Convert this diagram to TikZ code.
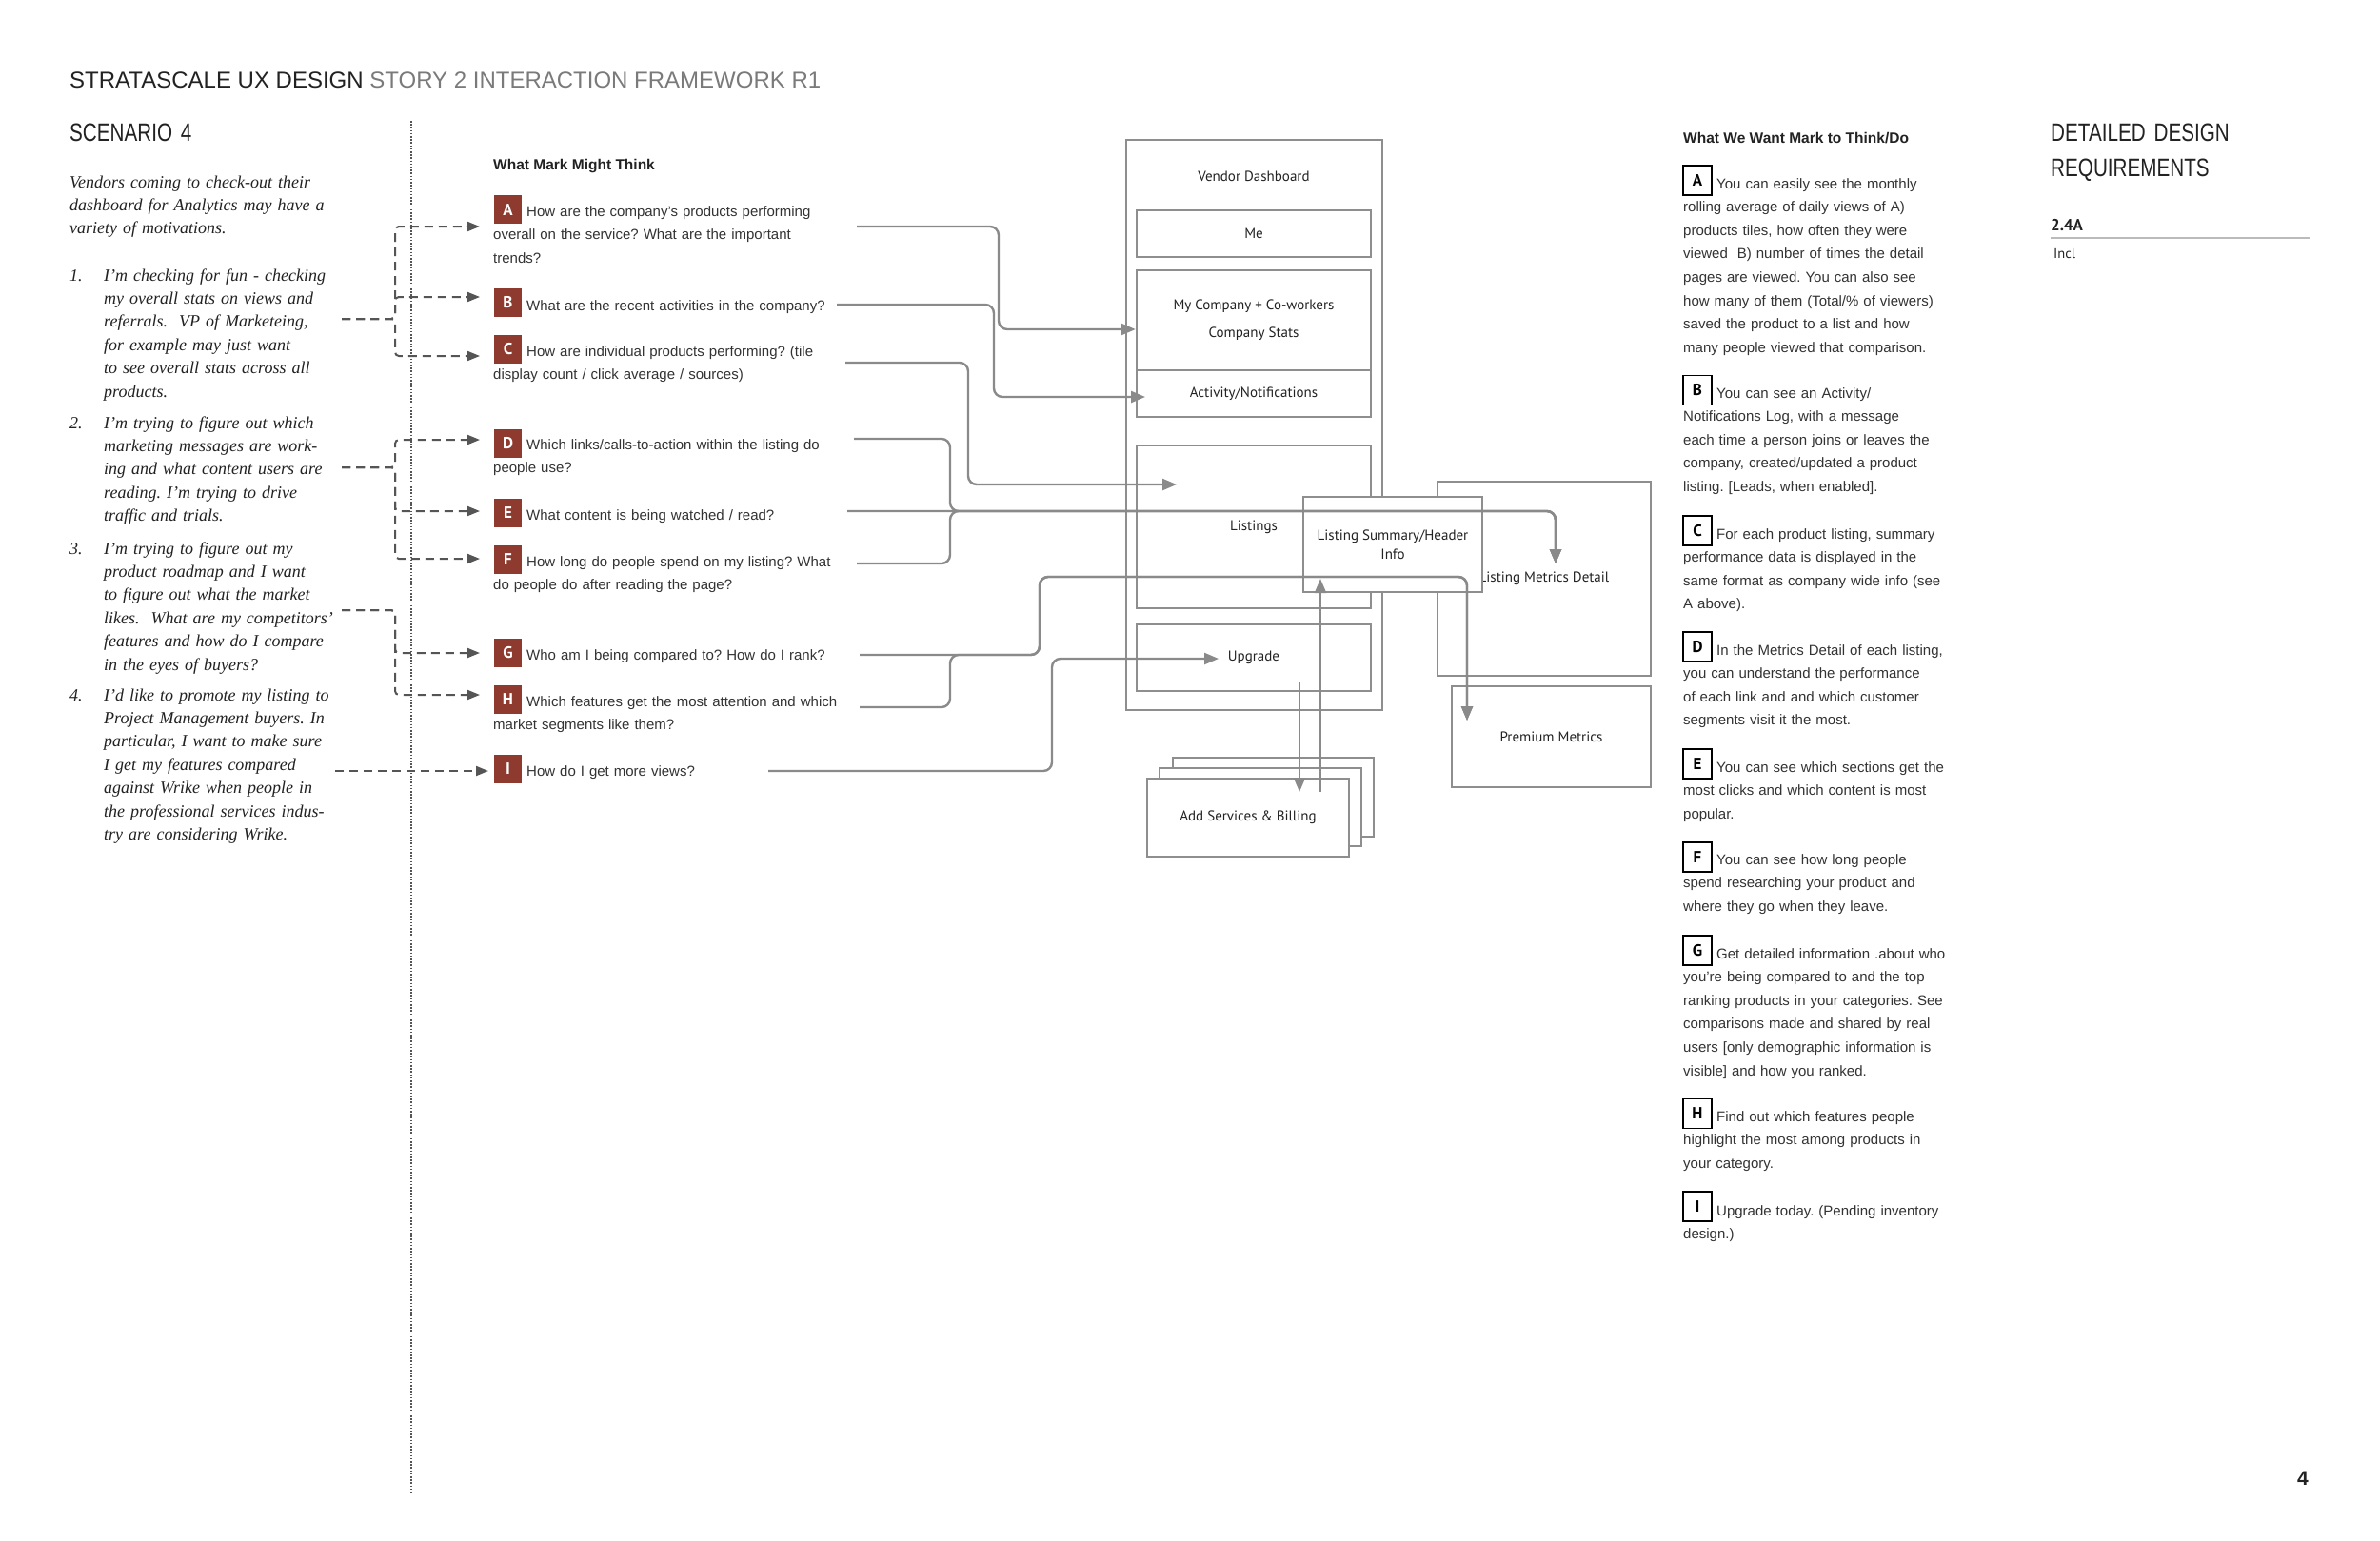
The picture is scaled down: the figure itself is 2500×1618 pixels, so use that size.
\documentclass[tikz,border=0pt]{standalone}
\usepackage{fontspec}
\setmainfont{Liberation Sans}
\newfontfamily\ptsans{PT Sans}
\newfontfamily\serifit{Liberation Serif}
\newfontfamily\condsans[FakeStretch=0.78]{Liberation Sans}
\usetikzlibrary{arrows.meta}
\definecolor{boxgray}{HTML}{8E8E8E}
\definecolor{linegray}{HTML}{8A8A8A}
\definecolor{dashgray}{HTML}{555555}
\definecolor{badgered}{HTML}{8E3A2E}
\definecolor{txtdark}{HTML}{222222}
\definecolor{txtbody}{HTML}{333333}
\definecolor{titlegray}{HTML}{7A7A7A}
\definecolor{rulegray}{HTML}{BBBBBB}
\frenchspacing
\begin{document}
\begin{tikzpicture}[x=1pt,y=-1pt,
  panel/.style={draw=boxgray, line width=2.4pt, fill=white, inner sep=2pt,
    font=\ptsans\fontsize{15}{18}\selectfont, text=txtdark, align=center},
  conn/.style={draw=linegray, line width=2.4pt, rounded corners=9pt,
    -{Triangle[length=15pt,width=12pt]}},
  dconn/.style={draw=dashgray, line width=2pt, dash pattern=on 9pt off 6pt,
    rounded corners=4pt, -{Triangle[length=13pt,width=10pt]}},
  badge/.style={fill=badgered, text=white, minimum width=29pt, minimum height=30pt,
    inner sep=0pt, font=\ptsans\bfseries\fontsize{17}{17}\selectfont},
  lbox/.style={draw=black, line width=1.8pt, fill=white, minimum width=30pt,
    minimum height=31pt, inner sep=0pt, font=\ptsans\bfseries\fontsize{17}{17}\selectfont},
  qtext/.style={anchor=base west, inner sep=0pt, text width=400pt, align=left,
    text=txtbody, font=\fontsize{15}{24.8}\selectfont},
  rtext/.style={anchor=base west, inner sep=0pt, text width=340pt, align=left,
    text=txtbody, font=\fontsize{15}{24.6}\selectfont},
  ltext/.style={anchor=base west, inner sep=0pt, text width=320pt, align=left,
    text=txtdark, font=\serifit\itshape\fontsize{18}{24.4}\selectfont},
  head/.style={anchor=base west, inner sep=0pt, text=txtdark,
    font=\bfseries\fontsize{15.5}{18}\selectfont},
  cond/.style={anchor=base west, inner sep=0pt, text=txtdark, align=left,
    text width=320pt, font=\condsans\fontsize{26.5}{37}\selectfont},
  dotline/.style={draw=dashgray, line width=1.6pt, dash pattern=on 1.6pt off 1.6pt}
]
\useasboundingbox (0,0) rectangle (2500,1618);
\fill[white] (0,0) rectangle (2500,1618);

% ---------- titles ----------
\node[anchor=base west, inner sep=0pt, font=\fontsize{24}{28}\selectfont] (title) at (73,92)
  {{\color{txtdark}STRATASCALE UX DESIGN} {\color{titlegray}STORY 2 INTERACTION FRAMEWORK R1}};
\node[cond] (scen) at (73,148) {SCENARIO 4};
\node[cond] (ddr) at (2154,148) {DETAILED DESIGN\\REQUIREMENTS};
\node[anchor=base west, inner sep=0pt, text=txtdark, font=\ptsans\bfseries\fontsize{17}{20}\selectfont] (req) at (2154,242) {2.4A};
\coordinate (ruleL) at (2154,250);
\coordinate (ruleR) at (2426,250);
\draw[rulegray, line width=2.5pt] (ruleL) -- (ruleR);
\node[anchor=base west, inner sep=0pt, text=txtdark, font=\ptsans\fontsize{14.5}{17}\selectfont] (incl) at (2157,271) {Incl};
\node[anchor=base west, inner sep=0pt, text=txtdark, font=\bfseries\fontsize{21}{24}\selectfont] (pnum) at (2413,1560) {4};

% ---------- dotted divider ----------
\coordinate (dtop) at (432,127);
\coordinate (dbot) at (432,1570);
\draw[dotline] (dtop) -- (dbot);

% ---------- left scenario text ----------
\node[ltext] (intro) at (73,197) {Vendors coming to check-out their\\dashboard for Analytics may have a\\variety of motivations.};
\node[ltext, text width=30pt] (n1) at (73,295) {1.};
\node[ltext] (s1t) at (109,295) {I’m checking for fun - checking\\my overall stats on views and\\referrals.\ \ VP of Marketeing,\\for example may just want\\to see overall stats across all\\products.};
\node[ltext, text width=30pt] (n2) at (73,450) {2.};
\node[ltext] (s2t) at (109,450) {I’m trying to figure out which\\marketing messages are work-\\ing and what content users are\\reading. I’m trying to drive\\traffic and trials.};
\node[ltext, text width=30pt] (n3) at (73,582) {3.};
\node[ltext] (s3t) at (109,582) {I’m trying to figure out my\\product roadmap and I want\\to figure out what the market\\likes.\ \ What are my competitors’\\features and how do I compare\\in the eyes of buyers?};
\node[ltext, text width=30pt] (n4) at (73,736) {4.};
\node[ltext] (s4t) at (109,736) {I’d like to promote my listing to\\Project Management buyers. In\\particular, I want to make sure\\I get my features compared\\against Wrike when people in\\the professional services indus-\\try are considering Wrike.};

% ---------- questions ----------
\node[head] (qhead) at (518,178) {What Mark Might Think};
\node[badge] (bA) at (533.5,220) {A};
\node[qtext] (qA) at (518,227) {\hspace*{35pt}How are the company’s products performing\\overall on the service? What are the important\\trends?};
\node[badge] (bB) at (533.5,318) {B};
\node[qtext] (qB) at (518,326) {\hspace*{35pt}What are the recent activities in the company?};
\node[badge] (bC) at (533.5,367) {C};
\node[qtext] (qC) at (518,374) {\hspace*{35pt}How are individual products performing? (tile\\display count / click average / sources)};
\node[badge] (bD) at (533.5,466) {D};
\node[qtext] (qD) at (518,472) {\hspace*{35pt}Which links/calls-to-action within the listing do\\people use?};
\node[badge] (bE) at (533.5,539) {E};
\node[qtext] (qE) at (518,546) {\hspace*{35pt}What content is being watched / read?};
\node[badge] (bF) at (533.5,588) {F};
\node[qtext] (qF) at (518,595) {\hspace*{35pt}How long do people spend on my listing? What\\do people do after reading the page?};
\node[badge] (bG) at (533.5,686) {G};
\node[qtext] (qG) at (518,693) {\hspace*{35pt}Who am I being compared to? How do I rank?};
\node[badge] (bH) at (533.5,735) {H};
\node[qtext] (qH) at (518,742) {\hspace*{35pt}Which features get the most attention and which\\market segments like them?};
\node[badge] (bI) at (533.5,808) {I};
\node[qtext] (qI) at (518,815) {\hspace*{35pt}How do I get more views?};

% ---------- dashed connectors from scenarios ----------
\coordinate (src1) at (359,335); \coordinate (j1) at (415,335);
\coordinate (tA) at (504,238); \coordinate (tB) at (504,312); \coordinate (tC) at (504,374);
\draw[dconn] (src1) -- (j1) |- (tA);
\draw[dconn] (src1) -- (j1) |- (tB);
\draw[dconn] (src1) -- (j1) |- (tC);
\coordinate (src2) at (359,491); \coordinate (j2) at (415,491);
\coordinate (tD) at (504,462); \coordinate (tE) at (504,537); \coordinate (tF) at (504,587);
\draw[dconn] (src2) -- (j2) |- (tD);
\draw[dconn] (src2) -- (j2) |- (tE);
\draw[dconn] (src2) -- (j2) |- (tF);
\coordinate (src3) at (359,641); \coordinate (j3) at (415,641);
\coordinate (tG) at (504,686); \coordinate (tH) at (504,730);
\draw[dconn] (src3) -- (j3) |- (tG);
\draw[dconn] (src3) -- (j3) |- (tH);
\coordinate (src4) at (352,810); \coordinate (tI) at (513,810);
\draw[dconn] (src4) -- (tI);

% ---------- diagram boxes ----------
\node[panel, minimum width=269pt, minimum height=599pt] (vd) at (1317.5,446.5) {};
\node[anchor=center, inner sep=0pt, text=txtdark, font=\ptsans\fontsize{15}{18}\selectfont] (vdt) at (1317,185) {Vendor Dashboard};
\node[panel, minimum width=246pt, minimum height=49pt] (me) at (1317,245.5) {Me};
\node[panel, minimum width=246pt, minimum height=105pt, font=\ptsans\fontsize{15}{29}\selectfont] (myco) at (1317,336.5) {My Company + Co-workers\\Company Stats};
\node[panel, minimum width=246pt, minimum height=49pt] (act) at (1317,413.5) {Activity/Notifications};
\node[panel, minimum width=246pt, minimum height=171pt] (lst) at (1317,553.5) {Listings};
\node[panel, minimum width=246pt, minimum height=70pt] (upg) at (1317,691) {Upgrade};
\node[panel, minimum width=224pt, minimum height=204pt] (met) at (1622,608) {Listing Metrics Detail};
\node[panel, minimum width=209pt, minimum height=106pt] (prem) at (1629.5,774) {Premium Metrics};
\node[panel, minimum width=211pt, minimum height=83pt] (add3) at (1337.5,837.5) {};
\node[panel, minimum width=212pt, minimum height=82pt] (add2) at (1324,848) {};
\node[panel, minimum width=212pt, minimum height=82pt] (add1) at (1311,859) {Add Services \& Billing};
\node[panel, minimum width=188pt, minimum height=100pt, font=\ptsans\fontsize{15}{20}\selectfont] (sum) at (1463,572) {Listing Summary/Header\\Info};

% ---------- solid connectors ----------
\coordinate (cA) at (900,238);
\draw[conn] (cA) -- (1049,238) -- (1049,346) -- (myco.west |- 0,346);
\coordinate (cB) at (879,320); \coordinate (eB) at (1203,417);
\draw[conn] (cB) -- (1044,320) -- (1044,417) -- (eB);
\coordinate (cC) at (888,381); \coordinate (eC) at (1236,509);
\draw[conn] (cC) -- (1017,381) -- (1017,509) -- (eC);
\coordinate (cD) at (897,461); \coordinate (cE) at (890,537); \coordinate (cF) at (900,592);
\coordinate (eE) at (1634,592);
\draw[conn] (cD) -- (998,461) -- (998,537) -- (1634,537) -- (eE);
\draw[conn] (cF) -- (998,592) -- (998,537) -- (1634,537) -- (eE);
\draw[conn] (cE) -- (1634,537) -- (eE);
\coordinate (cG) at (903,688); \coordinate (cH) at (903,743); \coordinate (eG) at (1541,757);
\draw[conn] (cG) -- (1092,688) -- (1092,606) -- (1541,606) -- (eG);
\draw[conn] (cH) -- (998,743) -- (998,688) -- (1092,688) -- (1092,606) -- (1541,606) -- (eG);
\coordinate (cI) at (807,810); \coordinate (eI) at (1280,692);
\draw[conn] (cI) -- (1105,810) -- (1105,692) -- (eI);
\coordinate (uS) at (1365,717); \coordinate (uE) at (1365,832);
\draw[conn] (uS) -- (uE);
\coordinate (aS) at (1387,832); \coordinate (aE) at (1387,608);
\draw[conn] (aS) -- (aE);

% ---------- right column ----------
\node[head] (rhead) at (1768,150) {What We Want Mark to Think/Do};
\node[lbox] (rA) at (1783,189.5) {A};
\node[rtext] (tRA) at (1768,198) {\hspace*{35pt}You can easily see the monthly\\rolling average of daily views of A)\\products tiles, how often they were\\viewed\ \ B) number of times the detail\\pages are viewed. You can also see\\how many of them (Total/\% of viewers)\\saved the product to a list and how\\many people viewed that comparison.};
\node[lbox] (rB) at (1783,410) {B};
\node[rtext] (tRB) at (1768,418) {\hspace*{35pt}You can see an Activity/\\Notifications Log, with a message\\each time a person joins or leaves the\\company, created/updated a product\\listing. [Leads, when enabled].};
\node[lbox] (rC) at (1783,557.5) {C};
\node[rtext] (tRC) at (1768,566) {\hspace*{35pt}For each product listing, summary\\performance data is displayed in the\\same format as company wide info (see\\A above).};
\node[lbox] (rD) at (1783,679.5) {D};
\node[rtext] (tRD) at (1768,688) {\hspace*{35pt}In the Metrics Detail of each listing,\\you can understand the performance\\of each link and and which customer\\segments visit it the most.};
\node[lbox] (rE) at (1783,802.5) {E};
\node[rtext] (tRE) at (1768,811) {\hspace*{35pt}You can see which sections get the\\most clicks and which content is most\\popular.};
\node[lbox] (rF) at (1783,900.5) {F};
\node[rtext] (tRF) at (1768,908) {\hspace*{35pt}You can see how long people\\spend researching your product and\\where they go when they leave.};
\node[lbox] (rG) at (1783,998.5) {G};
\node[rtext] (tRG) at (1768,1007) {\hspace*{35pt}Get detailed information .about who\\you’re being compared to and the top\\ranking products in your categories. See\\comparisons made and shared by real\\users [only demographic information is\\visible] and how you ranked.};
\node[lbox] (rH) at (1783,1170) {H};
\node[rtext] (tRH) at (1768,1178) {\hspace*{35pt}Find out which features people\\highlight the most among products in\\your category.};
\node[lbox] (rI) at (1783,1267.5) {I};
\node[rtext] (tRI) at (1768,1277) {\hspace*{35pt}Upgrade today. (Pending inventory\\design.)};
\end{tikzpicture}
\end{document}
